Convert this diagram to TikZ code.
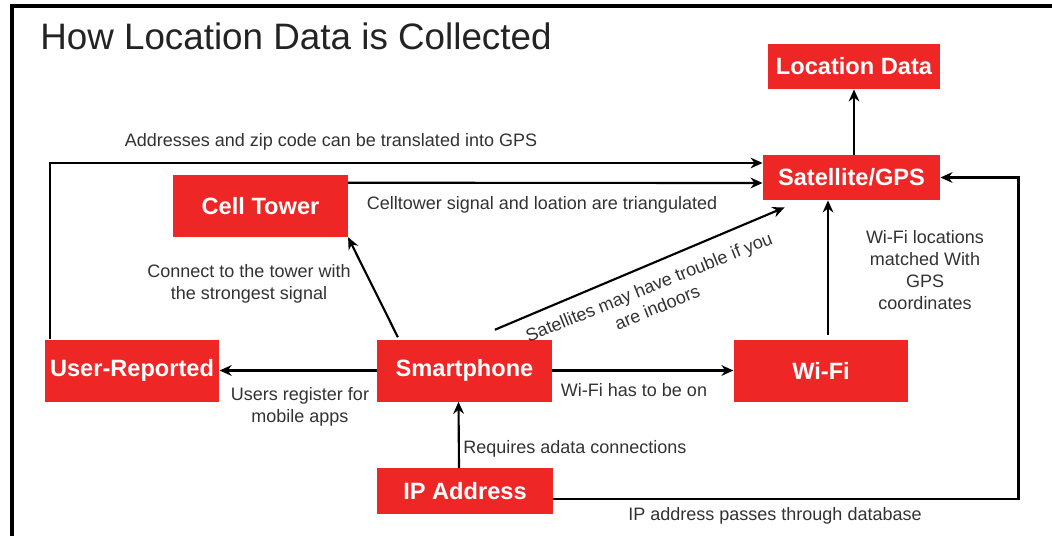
\documentclass[tikz,border=0pt]{standalone}
\usepackage{fontspec}
\setmainfont{Liberation Sans}
\usepackage{tikz}
\usetikzlibrary{arrows.meta,positioning,calc}
\definecolor{boxred}{RGB}{238,38,38}
\definecolor{notegray}{RGB}{50,50,50}
\definecolor{titlegray}{RGB}{35,35,35}
\tikzset{%
  every box/.style={
    fill=boxred,
    text=white,
    font=\fontsize{17.7}{20}\selectfont\bfseries,
    inner sep=0pt,
    minimum width=131pt,
    minimum height=46.5pt
  },
  box flat/.style={
    minimum height=34pt
  },
  every note/.style={
    text=notegray,
    font=\fontsize{13.5}{16.5}\selectfont,
    align=center,
    inner sep=0pt
  },
  link/.style={
    ->,
    line width=1.6pt
  },
}

\begin{document}
\begin{tikzpicture}[x=0.75pt, y=-0.75pt, >={Stealth[length=9pt,width=8pt]}]

\useasboundingbox (0,0) rectangle (1052,535);
\draw [line width=3pt] (12,540) -- (12,6) -- (1052,6);

\node [anchor=base west, inner sep=0pt, text=titlegray, font=\fontsize{27.6}{30}\selectfont] (title) at (40,50) {How Location Data is Collected};

% boxes
\foreach \n/\t/\x/\y in {tower/Cell Tower/260.5/206, user/User-Reported/132/370.5, phone/Smartphone/464.5/370.5, wifi/Wi-Fi/821/370.5}
  \node [every box] (\n) at (\x,\y) {\t};
\node [every box, box flat, minimum width=129pt] (locdata) at (854,66.5) {Location Data};
\node [every box, box flat, minimum width=133pt] (gps) at (851.5,177.5) {Satellite/GPS};
\node [every box, box flat, minimum width=132pt] (ip) at (465,491) {IP Address};

% notes
\node [every note] (note-zip) at (331,142) {Addresses and zip code can be translated into GPS};
\node [every note] (note-tri) at (542,205) {Celltower signal and loation are triangulated};
\node [every note] (note-tower) at (249,284) {Connect to the tower with\\the strongest signal};
\node [every note, rotate=22] (note-sat) at (653,297) {Satellites may have trouble if you\\are indoors};
\node [every note] (note-user) at (300,407) {Users register for\\mobile apps};
\node [every note] (note-wifi) at (634,390) {Wi-Fi has to be on};
\node [every note] (note-gps) at (925,270) {Wi-Fi locations\\matched With\\GPS\\coordinates};
\node [every note, anchor=west] (note-req) at (463,449) {Requires adata connections};
\node [every note] (note-db) at (775,516) {IP address passes through database};

% links
\draw [link] (gps.north -| locdata) -- (locdata.south);
\draw [link] ($(user.north west)+(6,0)$) |- ($(gps.west)+(0,-14.5)$);
\draw [link] ($(tower.north east)+(0,8)$) -- ($(gps.west)+(0,5.5)$);
\draw [link] ($(phone.north west)+(21,-2)$) -- (tower.south east);
\draw [link] ($(phone.north west)+(118,-9.5)$) -- ($(gps.south west)+(22,7)$);
\draw [link] (phone.west) -- (user.east);
\draw [link] (phone.east) -- (wifi.west);
\draw [link] ($(wifi.north)+(7,-4)$) -- ($(gps.south -| wifi.north)+(7,0)$);
\draw [link] ($(ip.north)+(-6,0)$) -- ($(phone.south)+(-6,0)$);
\draw [link] ($(ip.east)+(0,8)$) -| ($(gps.east)+(78,0)$) -- (gps.east);

\end{tikzpicture}
\end{document}
